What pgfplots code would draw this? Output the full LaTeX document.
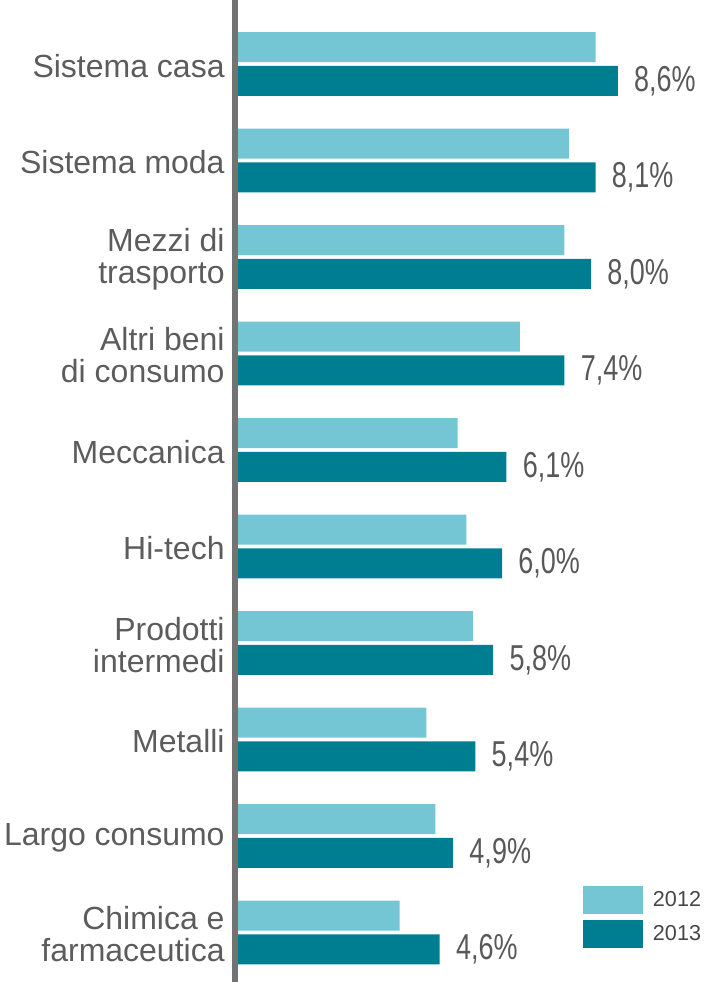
\documentclass[border=0pt]{standalone}
\usepackage{pgfplots}
\pgfplotsset{compat=1.18}
\usepackage{fontspec}
\setmainfont{Liberation Sans}
\usepackage{graphicx}
\definecolor{light}{RGB}{117,198,212}
\definecolor{dark}{RGB}{0,126,145}
\definecolor{lab}{RGB}{92,92,92}
\definecolor{val}{RGB}{88,88,88}
\definecolor{spine}{RGB}{115,115,115}
\definecolor{legt}{RGB}{70,70,70}
\begin{document}
\begin{tikzpicture}
\begin{axis}[
  at={(0,0)}, anchor=south west,
  scale only axis, width=235pt, height=491pt,
  xbar, bar width=15pt,
  xmin=0, xmax=10.56,
  ymin=-0.513, ymax=9.663,
  axis x line=none,
  axis y line*=left,
  y axis line style={line width=3pt, color=spine, -},
  ytick={0,1,2,3,4,5,6,7,8,9},
  yticklabels={{Chimica e\\farmaceutica},{Largo consumo},{Metalli},{Prodotti\\intermedi},{Hi-tech},{Meccanica},{Altri beni\\di consumo},{Mezzi di\\trasporto},{Sistema moda},{Sistema casa}},
  major tick length=0pt,
  yticklabel style={align=right, font=\fontsize{16}{16}\selectfont, text=lab, inner sep=0pt, xshift=-5pt, yshift=-1pt},
  axis on top,
  /pgf/number format/assume math mode=true,
  legend style={at={(axis description cs:0.7404,0.0978)}, anchor=north west, draw=none, fill=none, inner sep=0pt, outer sep=0pt, row sep=3.2pt, column sep=5pt, font=\fontsize{10.8}{13}\selectfont, text=legt, nodes={inner sep=0pt}},
  legend cell align=left,
  legend image code/.code={\fill[#1] (0pt,-7pt) rectangle (30pt,7pt);},
]
\addplot[fill=light, draw=none, bar shift=8.4pt] coordinates {
(8.1,9) (7.5,8) (7.4,7) (6.4,6) (5.0,5) (5.2,4) (5.35,3) (4.3,2) (4.5,1) (3.7,0)};
\addlegendentry{2012}
\addplot[fill=dark, draw=none, bar shift=-8.4pt, point meta=x,
  nodes near coords={\scalebox{0.75}[1]{\pgfmathprintnumber[fixed,fixed zerofill,precision=1,use comma,assume math mode=true]{\pgfplotspointmeta}\%}},
  nodes near coords style={anchor=west, inner sep=0pt, xshift=8pt, font=\fontsize{18}{20}\selectfont, text=val}] coordinates {
(8.6,9) (8.1,8) (8.0,7) (7.4,6) (6.1,5) (6.0,4) (5.8,3) (5.4,2) (4.9,1) (4.6,0)};
\addlegendentry{2013}
\end{axis}
\pgfresetboundingbox
\path[use as bounding box] (-117.5pt,0pt) rectangle (235pt,491pt);
\end{tikzpicture}
\end{document}
